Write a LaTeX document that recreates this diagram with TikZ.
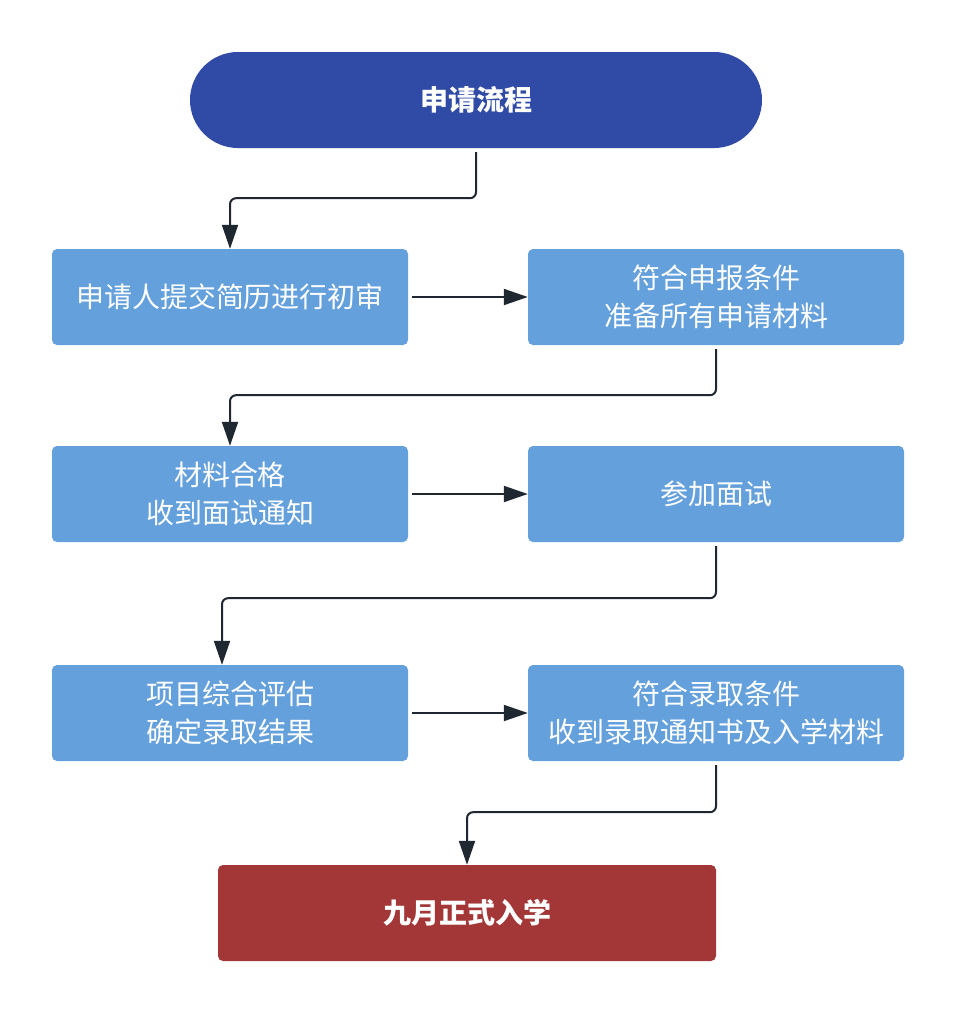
\documentclass[tikz,border=0pt]{standalone}
\usepackage{fontspec}
\setmainfont{Noto Sans CJK SC}
\usetikzlibrary{arrows.meta}
\definecolor{titleblue}{HTML}{2F4BA6}
\definecolor{boxblue}{HTML}{64A0DC}
\definecolor{endred}{HTML}{A33636}
\definecolor{linecol}{HTML}{1F2730}
\begin{document}
\begin{tikzpicture}[x=1pt,y=-1pt,
  box/.style={rectangle, rounded corners=5pt, fill=boxblue, text=white, align=center,
    minimum height=96pt, font=\fontsize{28}{38}\selectfont, inner sep=0pt},
  conn/.style={draw=linecol, line width=2pt, rounded corners=6pt, -{Triangle[length=24pt,width=16pt]}}
]
\fill[white] (0,0) rectangle (956,1013);
\useasboundingbox (0,0) rectangle (956,1013);
\node[rectangle, rounded corners=48pt, fill=titleblue, text=white, minimum width=572pt, minimum height=96pt,
  font=\fontsize{28}{38}\selectfont\bfseries, inner sep=0pt] (title) at (476,100) {申请流程};
\node[box, minimum width=356pt] (b1) at (230,297) {申请人提交简历进行初审};
\node[box, minimum width=376pt] (b2) at (716,297) {符合申报条件\\准备所有申请材料};
\node[box, minimum width=356pt] (b3) at (230,494) {材料合格\\收到面试通知};
\node[box, minimum width=376pt] (b4) at (716,494) {参加面试};
\node[box, minimum width=356pt] (b5) at (230,713) {项目综合评估\\确定录取结果};
\node[box, minimum width=376pt] (b6) at (716,713) {符合录取条件\\收到录取通知书及入学材料};
\node[box, fill=endred, minimum width=498pt, font=\fontsize{28}{38}\selectfont\bfseries] (end) at (467,913) {九月正式入学};

\draw[conn] ([yshift=-4pt]title.south) -- ([yshift=-50pt]title.south) -| (b1.north);
\draw[conn] ([xshift=4pt]b1.east) -- (b2.west);
\draw[conn] ([yshift=-4pt]b2.south) -- ([yshift=-50pt]b2.south) -| (b3.north);
\draw[conn] ([xshift=4pt]b3.east) -- (b4.west);
\draw[conn] ([yshift=-4pt]b4.south) -- ([yshift=-56pt]b4.south) -| ([xshift=-8pt]b5.north);
\draw[conn] ([xshift=4pt]b5.east) -- (b6.west);
\draw[conn] ([yshift=-4pt]b6.south) -- ([yshift=-51pt]b6.south) -| (end.north);
\end{tikzpicture}
\end{document}
